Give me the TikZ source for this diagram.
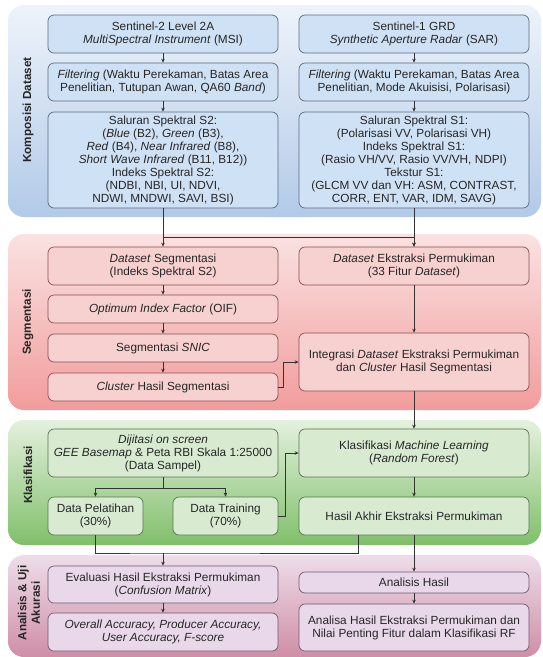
\documentclass[tikz,border=0pt]{standalone}
\usepackage{fontspec}
\setmainfont{Liberation Sans}
\usetikzlibrary{arrows.meta}

\definecolor{bluetop}{HTML}{EEF3FA}
\definecolor{bluebot}{HTML}{B2CAE8}
\definecolor{bluefill}{HTML}{CFE1F5}
\definecolor{blueline}{HTML}{5C6C80}
\definecolor{redtop}{HTML}{FAE2E2}
\definecolor{redbot}{HTML}{F29C9C}
\definecolor{redfill}{HTML}{F7D0D0}
\definecolor{redline}{HTML}{8A5050}
\definecolor{greentop}{HTML}{E4F1DE}
\definecolor{greenbot}{HTML}{80BF6A}
\definecolor{greenfill}{HTML}{D8EBD1}
\definecolor{greenline}{HTML}{5B7353}
\definecolor{pinktop}{HTML}{EEDDEA}
\definecolor{pinkbot}{HTML}{CF8EA6}
\definecolor{pinkfill}{HTML}{E8D8EA}
\definecolor{pinkline}{HTML}{6E5A72}

\tikzset{
    panel/.style={rounded corners=16pt},
    tag/.style={rotate=90, align=center, text=black!85,
        font=\bfseries\fontsize{11.7}{13.5}\selectfont},
    box/.style={rounded corners=6pt, align=center, line width=0.7pt,
        minimum width=230pt, inner sep=1.5pt, text=black!85},
    bbox/.style={box, fill=bluefill, draw=blueline},
    rbox/.style={box, fill=redfill, draw=redline},
    gbox/.style={box, fill=greenfill, draw=greenline},
    pbox/.style={box, fill=pinkfill, draw=pinkline},
    line/.style={draw=black!80, line width=0.7pt},
    flow/.style={line, -{Stealth[length=4pt, width=3.5pt]}}
}

\begin{document}
\begin{tikzpicture}[x=1pt, y=-1pt, font=\fontsize{11.8}{13}\selectfont]
    \useasboundingbox (0,0) rectangle (543,657);
    % panels
    \shade[panel, top color=bluetop, bottom color=bluebot] (8,5) rectangle (541,217);
    \shade[panel, top color=redtop, bottom color=redbot] (8,234) rectangle (541,410);
    \shade[panel, top color=greentop, bottom color=greenbot] (8,420) rectangle (541,545);
    \shade[panel, top color=pinktop, bottom color=pinkbot] (8,555) rectangle (541,657);
    \node[tag] (tKD) at (28,110) {Komposisi Dataset};
    \node[tag] (tSG) at (28,322) {Segmentasi};
    \node[tag] (tKL) at (28,475) {Klasifikasi};
    \node[tag] (tAU) at (29,603) {Analisis \& Uji\\Akurasi};

    % komposisi dataset
    \node[bbox, minimum height=38pt] (S2a) at (163,34) {Sentinel-2 Level 2A\\\textit{MultiSpectral Instrument} (MSI)};
    \node[bbox, minimum height=38pt] (S2b) at (163,82) {\textit{Filtering} (Waktu Perekaman, Batas Area\\Penelitian, Tutupan Awan, QA60 \textit{Band})};
    \node[bbox, minimum height=96pt] (S2c) at (163,160) {Saluran Spektral S2:\\(\textit{Blue} (B2), \textit{Green} (B3),\\\textit{Red} (B4), \textit{Near Infrared} (B8),\\\textit{Short Wave Infrared} (B11, B12))\\Indeks Spektral S2:\\(NDBI, NBI, UI, NDVI,\\NDWI, MNDWI, SAVI, BSI)};
    \node[bbox, minimum height=38pt] (S1a) at (414,34) {Sentinel-1 GRD\\\textit{Synthetic Aperture Radar} (SAR)};
    \node[bbox, minimum height=38pt] (S1b) at (414,82) {\textit{Filtering} (Waktu Perekaman, Batas Area\\Penelitian, Mode Akuisisi, Polarisasi)};
    \node[bbox, minimum height=96pt] (S1c) at (414,160) {Saluran Spektral S1:\\(Polarisasi VV, Polarisasi VH)\\Indeks Spektral S1:\\(Rasio VH/VV, Rasio VV/VH, NDPI)\\Tekstur S1:\\(GLCM VV dan VH: ASM, CONTRAST,\\CORR, ENT, VAR, IDM, SAVG)};

    % segmentasi
    \node[rbox, minimum height=38pt] (segA) at (163,266) {\textit{Dataset} Segmentasi\\(Indeks Spektral S2)};
    \node[rbox, minimum height=28pt] (segB) at (163,309) {\textit{Optimum Index Factor} (OIF)};
    \node[rbox, minimum height=28pt] (segC) at (163,348) {Segmentasi \textit{SNIC}};
    \node[rbox, minimum height=28pt] (segD) at (163,387) {\textit{Cluster} Hasil Segmentasi};
    \node[rbox, minimum height=38pt] (ekA) at (414,266) {\textit{Dataset} Ekstraksi Permukiman\\(33 Fitur \textit{Dataset})};
    \node[rbox, minimum height=58pt] (ekB) at (414,362) {Integrasi \textit{Dataset} Ekstraksi Permukiman\\dan \textit{Cluster} Hasil Segmentasi};

    % klasifikasi
    \node[gbox, minimum height=48pt] (dij) at (163,453) {\textit{Dijitasi on screen}\\\textit{GEE Basemap} \& Peta RBI Skala 1:25000\\(Data Sampel)};
    \node[gbox, minimum height=38pt, minimum width=95pt] (pel) at (95.5,516) {Data Pelatihan\\(30\%)};
    \node[gbox, minimum height=38pt, minimum width=105pt] (trn) at (225.5,516) {Data Training\\(70\%)};
    \node[gbox, minimum height=48pt] (kml) at (414,453) {Klasifikasi \textit{Machine Learning}\\(\textit{Random Forest})};
    \node[gbox, minimum height=38pt] (hak) at (414,516) {Hasil Akhir Ekstraksi Permukiman};

    % analisis & uji akurasi
    \node[pbox, minimum height=37pt] (evl) at (163,584.5) {Evaluasi Hasil Ekstraksi Permukiman\\(\textit{Confusion Matrix})};
    \node[pbox, minimum height=38pt] (acc) at (163,632) {\textit{Overall Accuracy, Producer Accuracy,}\\\textit{User Accuracy, F-score}};
    \node[pbox, minimum height=21pt] (anl) at (414,582.5) {Analisis Hasil};
    \node[pbox, minimum height=47pt] (anr) at (414,627.5) {Analisa Hasil Ekstraksi Permukiman dan\\Nilai Penting Fitur dalam Klasifikasi RF};

    % connectors
    \coordinate (jA) at (163,237);
    \coordinate (jB) at (163,488);
    \coordinate (jC) at (163,553);
    \draw[flow] (S2a) -- (S2b);
    \draw[flow] (S2b) -- (S2c);
    \draw[flow] (S1a) -- (S1b);
    \draw[flow] (S1b) -- (S1c);
    \draw[flow] (S2c) -- (segA);
    \draw[flow] (S2c.south) -- (jA) -| (ekA.north);
    \draw[flow] (S1c) -- (ekA);
    \draw[flow] (segA) -- (segB);
    \draw[flow] (segB) -- (segC);
    \draw[flow] (segC) -- (segD);
    \draw[flow] (ekA) -- (ekB);
    \draw[flow] (segD.east) -- ++(5,0) |- (ekB.west);
    \draw[flow] (ekB) -- (kml);
    \draw[line] (dij.south) -- (jB);
    \draw[flow] (jB) -| (pel.north);
    \draw[flow] (jB) -| (trn.north);
    \draw[flow] (trn.east) -- ++(7,0) |- (kml.west);
    \draw[flow] (kml) -- (hak);
    \draw[line] (pel.south) |- (jC) -| ([xshift=-56pt]hak.south);
    \draw[flow] (jC) -- (evl);
    \draw[flow] (hak) -- (anl);
    \draw[flow] (evl) -- (acc);
    \draw[flow] (anl) -- (anr);
\end{tikzpicture}
\end{document}
